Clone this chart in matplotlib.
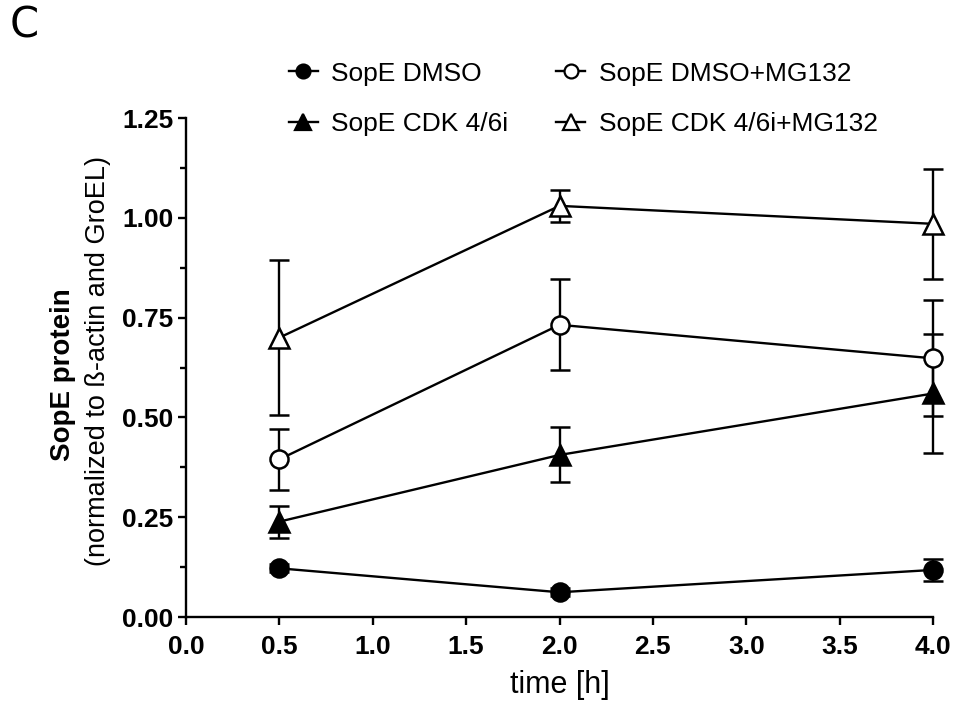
import numpy as np
import matplotlib
matplotlib.use("Agg")
import matplotlib.pyplot as plt
from matplotlib.lines import Line2D
from matplotlib.ticker import MultipleLocator

# time points [h]
time_h = [0.5, 2.0, 4.0]

# SopE protein (normalized), mean and error
dmso = [0.122, 0.062, 0.118]
dmso_err = [0.01, 0.01, 0.028]
dmso_mg = [0.395, 0.732, 0.648]
dmso_mg_err = [0.077, 0.114, 0.145]
cdk = [0.239, 0.406, 0.560]
cdk_err = [0.04, 0.069, 0.15]
cdk_mg = [0.700, 1.030, 0.985]
cdk_mg_err = [0.195, 0.04, 0.137]

labels = ["SopE DMSO", "SopE DMSO+MG132", "SopE CDK 4/6i", "SopE CDK 4/6i+MG132"]

plt.rcParams['font.family'] = ['Liberation Sans', 'DejaVu Sans']

fig = plt.figure(figsize=(9.56, 7.01), dpi=100)
ax = fig.add_axes([0.1946, 0.1198, 0.7814, 0.7118])

# legend order: column-wise -> row 1: DMSO, DMSO+MG132 ; row 2: CDK, CDK+MG132
series = [
    (dmso, dmso_err, 'o', 'black', labels[0]),
    (cdk, cdk_err, '^', 'black', labels[2]),
    (dmso_mg, dmso_mg_err, 'o', 'white', labels[1]),
    (cdk_mg, cdk_mg_err, '^', 'white', labels[3]),
]

handles = []
for vals, err, mk, fc, lab in series:
    ms = 13 if mk == 'o' else 14
    eb = ax.errorbar(time_h, vals, yerr=err, fmt='-', color='black',
                     marker=mk, markersize=ms, markerfacecolor=fc,
                     markeredgecolor='black', markeredgewidth=1.8,
                     linewidth=1.7, elinewidth=1.7, capsize=7, capthick=1.7,
                     clip_on=False, zorder=3)
    for part in eb.lines[1]:
        part.set_clip_on(False)
    for part in eb.lines[2]:
        part.set_clip_on(False)
    handles.append(Line2D([], [], color='black', linewidth=1.7, marker=mk,
                          markersize=10 if mk == 'o' else 11,
                          markerfacecolor=fc, markeredgecolor='black',
                          markeredgewidth=1.6, label=lab))

ax.set_xlim(0, 4.0)
ax.set_ylim(0, 1.25)
ax.xaxis.set_major_locator(MultipleLocator(0.5))
ax.yaxis.set_major_locator(MultipleLocator(0.25))
ax.yaxis.set_minor_locator(MultipleLocator(0.125))
ax.xaxis.set_major_formatter(plt.FormatStrFormatter('%.1f'))
ax.yaxis.set_major_formatter(plt.FormatStrFormatter('%.2f'))

ax.spines['top'].set_visible(False)
ax.spines['right'].set_visible(False)
ax.spines['left'].set_linewidth(1.7)
ax.spines['bottom'].set_linewidth(1.7)
ax.tick_params(which='major', direction='out', length=6, width=1.7,
               labelsize=19, pad=3)
ax.tick_params(axis='x', which='major', pad=7)
ax.tick_params(which='minor', direction='out', length=4, width=1.7)
for t in ax.get_xticklabels() + ax.get_yticklabels():
    t.set_fontweight('bold')

ax.set_xlabel("time [h]", fontsize=22, labelpad=8)

fig.text(0.066, 0.466, "SopE protein", rotation=90, fontsize=20,
         fontweight='bold', ha='center', va='center')
fig.text(0.1025, 0.485, "(normalized to ß-actin and GroEL)", rotation=90,
         fontsize=19.5, ha='center', va='center')

fig.text(0.0105, 0.963, "C", fontsize=30, family='DejaVu Sans', va='center')

leg = fig.legend(handles=handles, ncol=2, frameon=False, fontsize=19,
                 loc='upper left', bbox_to_anchor=(0.302, 0.912),
                 borderpad=0, borderaxespad=0, handlelength=1.1,
                 handletextpad=0.5, columnspacing=1.83, labelspacing=1.0)

fig.savefig("out.png", dpi=100)
